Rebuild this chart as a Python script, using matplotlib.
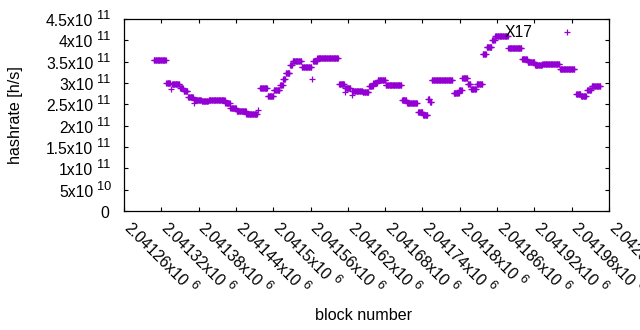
import numpy as np
import matplotlib as mpl
mpl.use('Agg')
import matplotlib.pyplot as plt
from matplotlib.font_manager import FontProperties

plt.rcParams['font.family'] = ['Liberation Sans', 'DejaVu Sans']

# block numbers are stored as offsets from this one
first_block = 2041260

# runs of consecutive blocks that share one hashrate estimate (x1e11 h/s)
run_from = [48, 68, 75, 77, 90, 96, 103, 112, 113, 125, 136, 163, 171, 181, 197, 215,
            219, 231, 241, 251, 256, 260, 267, 271, 286, 303, 304, 311,
            346, 355, 356, 366, 367, 384, 394, 401, 408, 421, 447, 455,
            473, 481, 489, 492, 495, 530, 539, 544, 553, 558, 567,
            577, 583, 592, 597, 618, 640, 649, 661, 673, 701, 712,
            727, 735, 745, 752]
run_to = [67, 74, 75, 89, 95, 102, 111, 112, 124, 135, 162, 170, 180, 196, 214, 215,
          230, 240, 250, 255, 259, 266, 270, 285, 301, 303, 310, 344,
          354, 355, 364, 366, 383, 393, 400, 407, 420, 446, 454, 471,
          480, 488, 491, 494, 528, 538, 543, 552, 557, 566, 576,
          582, 591, 596, 617, 639, 648, 660, 672, 700, 724, 712,
          734, 743, 751, 766]
run_hashrate = [3.53, 3.00, 2.86, 2.97, 2.88, 2.82, 2.68, 2.53, 2.61, 2.57, 2.61, 2.52, 2.42, 2.35, 2.27, 2.37,
                2.88, 2.70, 2.84, 2.95, 3.09, 3.23, 3.43, 3.52, 3.38, 3.09, 3.52, 3.58,
                2.98, 2.80, 2.88, 2.72, 2.81, 2.78, 2.92, 3.00, 3.08, 2.95, 2.60, 2.52,
                2.32, 2.26, 2.63, 2.55, 3.06, 2.76, 2.83, 3.12, 2.97, 2.86, 2.97,
                3.68, 3.84, 4.00, 4.10, 3.83, 3.56, 3.50, 3.42, 3.45, 3.32, 4.19,
                2.75, 2.69, 2.84, 2.94]

x_ticks = [2041260, 2041320, 2041380, 2041440, 2041500, 2041560, 2041620,
           2041680, 2041740, 2041800, 2041860, 2041920, 2041980, 2042040]
x_tick_text = ['2.04126', '2.04132', '2.04138', '2.04144', '2.0415', '2.04156', '2.04162',
               '2.04168', '2.04174', '2.0418', '2.04186', '2.04192', '2.04198', '2.04204']
x_tick_exp = '6'

y_ticks = [0, 0.5e11, 1e11, 1.5e11, 2e11, 2.5e11, 3e11, 3.5e11, 4e11, 4.5e11]
y_tick_text = ['0', '5', '1', '1.5', '2', '2.5', '3', '3.5', '4', '4.5']
y_tick_exp = ['', '10', '11', '11', '11', '11', '11', '11', '11', '11']

label_text = 'X17'
label_at = (2041872, 4.07e11)

blocks = first_block + np.concatenate([np.arange(a, b + 1) for a, b in zip(run_from, run_to)])
rates = 1e11 * np.concatenate([np.full(b - a + 1, v) for a, b, v in zip(run_from, run_to, run_hashrate)])

DPI = 100
PX = 72.0 / DPI  # one pixel in points
FS = 11.3
FS_SUP = 9.2

fig = plt.figure(figsize=(6.4, 3.3), dpi=DPI)
ax = fig.add_axes([124 / 640, 1 - 211 / 330, 485 / 640, 192 / 330])

ax.plot(blocks, rates, '+', color='#9400d3', ms=5, mew=0.9, linestyle='none', clip_on=False)

ax.set_xlim(x_ticks[0], x_ticks[-1])
ax.set_ylim(0, 4.5e11)
ax.set_xticks(x_ticks)
ax.set_yticks(y_ticks)
ax.tick_params(direction='in', top=True, right=True, length=3.2, width=0.8,
               labelbottom=False, labelleft=False)
for s in ax.spines.values():
    s.set_linewidth(0.9)

# y tick labels, gnuplot style "3.5x10 ^11"
for v, m, e in zip(y_ticks, y_tick_text, y_tick_exp):
    if e == '':
        ax.annotate(m, xy=(0, v), xycoords=('axes fraction', 'data'),
                    xytext=(-15 * PX, -7 * PX), textcoords='offset points',
                    ha='right', va='baseline', fontsize=FS)
        continue
    ax.annotate(m + 'x10', xy=(0, v), xycoords=('axes fraction', 'data'),
                xytext=(-30.7 * PX, -7 * PX), textcoords='offset points',
                ha='right', va='baseline', fontsize=FS)
    ax.annotate(e, xy=(0, v), xycoords=('axes fraction', 'data'),
                xytext=(-26.7 * PX, 0), textcoords='offset points',
                ha='left', va='baseline', fontsize=FS_SUP)

# x tick labels rotated by -45 with the exponent raised after them
renderer = fig.canvas.get_renderer()
fp = FontProperties(family=['Liberation Sans', 'DejaVu Sans'], size=FS)
dx, dy = 0.7071, -0.7071   # along the text
ux, uy = 0.7071, 0.7071    # text "up"
p0 = (-1.0, -18.0)
for v, m in zip(x_ticks, x_tick_text):
    s = m + 'x10'
    ax.annotate(s, xy=(v, 0), xycoords=('data', 'axes fraction'),
                xytext=(p0[0] * PX, p0[1] * PX), textcoords='offset points',
                rotation=-45, rotation_mode='anchor', ha='left', va='baseline',
                fontsize=FS, annotation_clip=False)
    w, h, d = renderer.get_text_width_height_descent(s, fp, ismath=False)
    along = w + 4
    raise_ = 7
    sx = p0[0] + along * dx + raise_ * ux
    sy = p0[1] + along * dy + raise_ * uy
    ax.annotate(x_tick_exp, xy=(v, 0), xycoords=('data', 'axes fraction'),
                xytext=(sx * PX, sy * PX), textcoords='offset points',
                rotation=-45, rotation_mode='anchor', ha='left', va='baseline',
                fontsize=FS_SUP, annotation_clip=False)

ax.text(label_at[0], label_at[1], label_text, ha='left', va='baseline', fontsize=FS)

fig.text(16 / 640, 1 - 115 / 330, 'hashrate [h/s]', rotation=90,
         ha='center', va='center', fontsize=11.6)
fig.text(364 / 640, 1 - 316 / 330, 'block number', ha='center', va='center', fontsize=11.6)

fig.savefig('out.png', dpi=DPI)
